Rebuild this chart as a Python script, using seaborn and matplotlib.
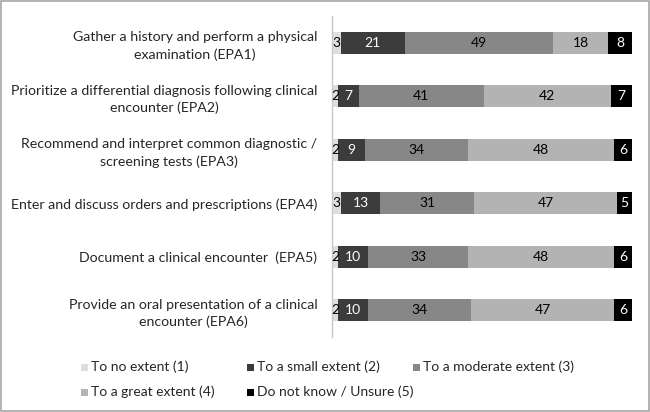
import numpy as np
import pandas as pd
import matplotlib
matplotlib.use("Agg")
import matplotlib.pyplot as plt
from matplotlib.patches import Rectangle
import seaborn as sns

categories = [
    "Gather a history and perform a physical\nexamination (EPA1)",
    "Prioritize a differential diagnosis following clinical\nencounter (EPA2)",
    "Recommend and interpret common diagnostic /\nscreening tests (EPA3)",
    "Enter and discuss orders and prescriptions (EPA4)",
    "Document a clinical encounter  (EPA5)",
    "Provide an oral presentation of a clinical\nencounter (EPA6)",
]
series_names = [
    "To no extent (1)",
    "To a small extent (2)",
    "To a moderate extent (3)",
    "To a great extent (4)",
    "Do not know / Unsure (5)",
]
no_extent = [3, 2, 2, 3, 2, 2]
small_extent = [21, 7, 9, 13, 10, 10]
moderate_extent = [49, 41, 34, 31, 33, 34]
great_extent = [18, 42, 48, 47, 48, 47]
unsure = [8, 7, 6, 5, 6, 6]

series = [no_extent, small_extent, moderate_extent, great_extent, unsure]
colors = ["#dedede", "#3c3c3c", "#878787", "#b3b3b3", "#000000"]
text_colors = ["black", "white", "black", "black", "white"]

sns.set_theme(style="white")
plt.rcParams["font.family"] = ["Lato", "DejaVu Sans"]

fig = plt.figure(figsize=(6.5, 4.12), dpi=100)
ax = fig.add_axes([332 / 650, 1 - 337 / 412, (632 - 332) / 650, (337 - 16) / 412])

vals = np.array(series, dtype=float)
cum = np.cumsum(vals, axis=0)

for i in reversed(range(len(series))):
    df = pd.DataFrame({"cat": categories, "val": cum[i]})
    sns.barplot(data=df, x="val", y="cat", orient="h", color=colors[i],
                width=0.41, saturation=1, ax=ax, linewidth=0)

for i in range(len(series)):
    for j in range(len(categories)):
        v = vals[i, j]
        xc = cum[i, j] - v / 2
        ax.text(xc, j, f"{int(v)}", ha="center", va="center",
                color=text_colors[i], fontsize=10)

ax.set_xlim(0, 99)
ax.set_ylim(5.5, -0.5)
ax.set_xlabel("")
ax.set_ylabel("")
ax.set_xticks([])
ax.tick_params(axis="y", length=0, pad=10.5, labelsize=10.2)
for lab in ax.get_yticklabels():
    lab.set_multialignment("center")
    lab.set_linespacing(1.45)
for s in ["top", "right", "bottom"]:
    ax.spines[s].set_visible(False)
ax.spines["left"].set_color("#c8c8c8")
ax.spines["left"].set_linewidth(1.0)

# legend (row-wise, manual layout)
leg_x = [81, 247, 413]
leg_y = [367, 392]
for k, name in enumerate(series_names):
    r, c = divmod(k, 3)
    x0 = leg_x[c] / 650
    y0 = 1 - leg_y[r] / 412
    fig.patches.append(Rectangle((x0, y0 - 3.5 / 412), 7 / 650, 7 / 412,
                                 transform=fig.transFigure, facecolor=colors[k],
                                 edgecolor="none"))
    fig.text(x0 + 10 / 650, y0, name, ha="left", va="center", fontsize=10)

# outer frame
fig.patches.append(Rectangle((0.002, 0.003), 0.996, 0.994, transform=fig.transFigure,
                             facecolor="none", edgecolor="#a6a6a6", linewidth=1.2))

fig.savefig("out.png", dpi=100)
